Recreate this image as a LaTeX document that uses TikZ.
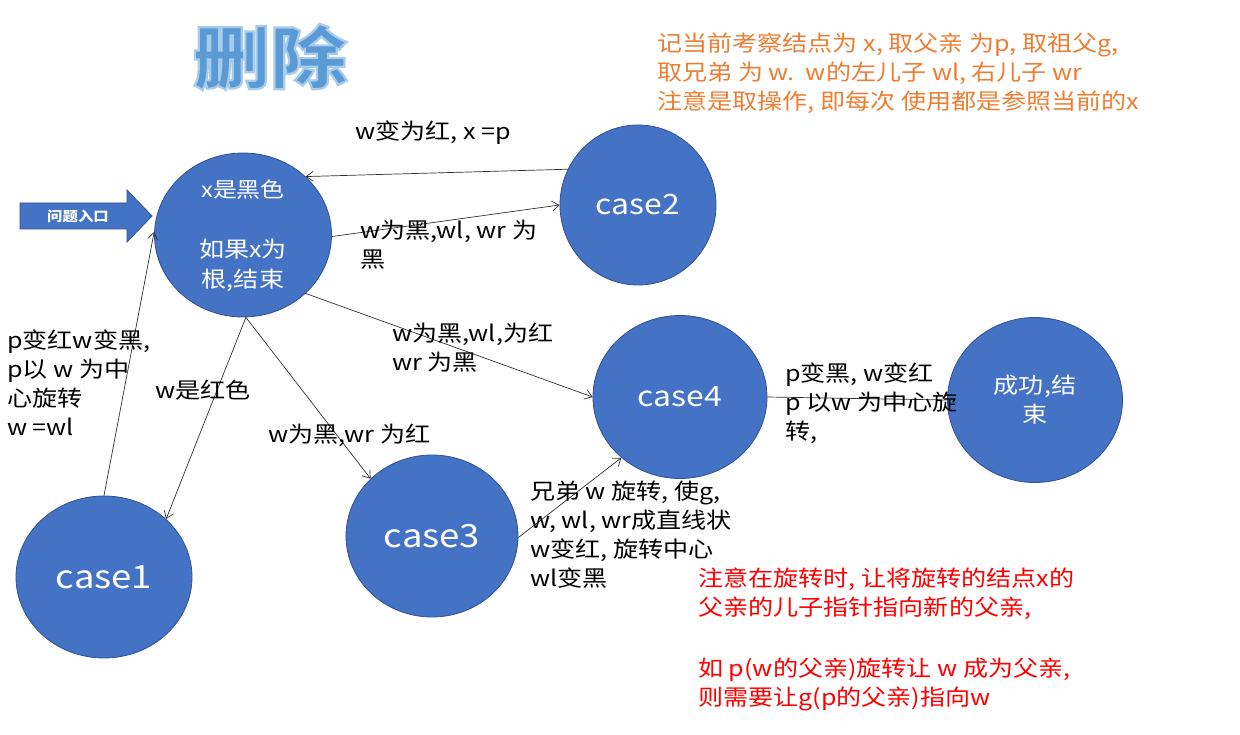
\documentclass[tikz,border=0pt]{standalone}
\usepackage{fontspec}
\setmainfont{Noto Sans CJK SC}[FakeStretch=1.14]
\usetikzlibrary{shapes.geometric,arrows.meta}
\definecolor{nodeblue}{HTML}{4472C4}
\definecolor{nodeedge}{HTML}{2F528F}
\definecolor{titleblue}{HTML}{5B9BD5}
\definecolor{noteorange}{HTML}{ED7D31}
\definecolor{notered}{HTML}{FF0000}
\definecolor{linegray}{HTML}{303030}
\tikzset{
  state/.style={ellipse, fill=nodeblue, draw=nodeedge, line width=0.8pt, text=white, align=center, inner sep=0pt},
  lbl/.style={anchor=north west, inner sep=0pt, align=left, font=\fontsize{22}{29}\selectfont, text=black},
  conn/.style={draw=linegray, line width=0.7pt, -{Straight Barb[length=7pt,width=10pt]}},
  plainconn/.style={draw=linegray, line width=0.7pt},
}
\begin{document}
\begin{tikzpicture}[x=1pt,y=-1pt]
\useasboundingbox (0,0) rectangle (1240,735);
% title
\node[font=\fontsize{68}{68}\selectfont\bfseries, text=titleblue] (title) at (270,57)
  {\special{pdf:code q 2 Tr 2.2 w 0.66 0.80 0.92 RG}删除\special{pdf:code Q}};
% entry arrow
\draw[fill=nodeblue, draw=nodeedge, line width=0.8pt] (20,203) -- (127,203) -- (127,190) -- (152,216) -- (127,242) -- (127,229) -- (20,229) -- cycle;
\node[text=white, font=\fontsize{13.5}{14}\selectfont\bfseries] (entry) at (78,216) {问题入口};
% states
\node[state, minimum width=177pt, minimum height=164pt] (x) at (243,235) {};
\node[text=white, font=\fontsize{21}{21}\selectfont] (xt1) at (243,190) {x是黑色};
\node[text=white, font=\fontsize{22}{30}\selectfont, align=center] (xt2) at (243,265) {如果x为\\根,结束};
\node[state, minimum width=156pt, minimum height=160pt, font=\fontsize{28}{28}\selectfont] (c2) at (638,205) {case2};
\node[state, minimum width=174pt, minimum height=163pt, font=\fontsize{28}{28}\selectfont] (c4) at (680,397) {case4};
\node[state, minimum width=175pt, minimum height=165pt, font=\fontsize{22}{29}\selectfont] (ok) at (1035,400) {成功,结\\束};
\node[state, minimum width=172pt, minimum height=162pt, font=\fontsize{32}{32}\selectfont] (c3) at (432,536) {case3};
\node[state, minimum width=176pt, minimum height=162pt, font=\fontsize{32}{32}\selectfont] (c1) at (104,577) {case1};
% connectors
\draw[conn] (c2.153) -- (x.43);
\draw[conn] (x.-1) -- (c2.180);
\draw[conn] (x.-43) -- (c4.180);
\draw[conn] (x.-88) -- (c1.43);
\draw[conn] (x.-88) -- (c3.137);
\draw[conn] (c1.north) -- (x.178);
\draw[conn] (c3.-1) -- (c4.-134);
\draw[plainconn] (c4.east) -- (ok.west);
% labels
\node[lbl] (l1) at (355,121) {w变为红, x =p};
\node[lbl] (l2) at (360,220) {w为黑,wl, wr 为\\黑};
\node[lbl] (l3) at (392,323) {w为黑,wl,为红\\wr 为黑};
\node[lbl] (l4) at (7,330) {p变红w变黑,\\p以 w 为中\\心旋转\\w =wl};
\node[lbl] (l5) at (155,380) {w是红色};
\node[lbl] (l6) at (268,424) {w为黑,wr 为红};
\node[lbl] (l7) at (530,481) {兄弟 w 旋转, 使g,\\w, wl, wr成直线状\\w变红, 旋转中心\\wl变黑};
\node[lbl] (l8) at (785,363) {p变黑, w变红\\p 以w 为中心旋\\转,};
\node[lbl, text=notered] (l9) at (698,568) {注意在旋转时, 让将旋转的结点x的\\父亲的儿子指针指向新的父亲,\\[32pt]如 p(w的父亲)旋转让 w 成为父亲,\\则需要让g(p的父亲)指向w};
\node[lbl, text=noteorange] (l10) at (657,33) {记当前考察结点为 x, 取父亲 为p, 取祖父g,\\取兄弟 为 w.\ \ w的左儿子 wl, 右儿子 wr\\注意是取操作, 即每次 使用都是参照当前的x};
\end{tikzpicture}
\end{document}
